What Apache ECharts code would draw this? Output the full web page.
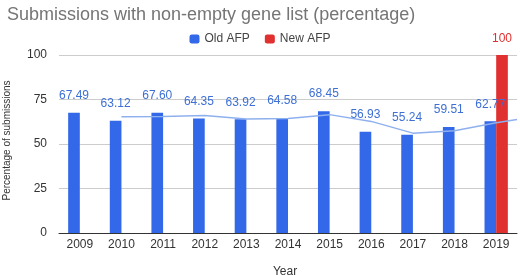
<!DOCTYPE html>
<html><head><meta charset="utf-8">
<script src="https://cdn.jsdelivr.net/npm/echarts@6/dist/echarts.min.js"></script>
<style>html,body{margin:0;padding:0;background:#fff;overflow:hidden}#c{width:520px;height:275px}</style>
</head><body><div id="c"></div>
<script>
var years = ['2009','2010','2011','2012','2013','2014','2015','2016','2017','2018','2019'];
var oldAFP = [67.49, 63.12, 67.60, 64.35, 63.92, 64.58, 68.45, 56.93, 55.24, 59.51, 62.77];
var newAFP = [null, null, null, null, null, null, null, null, null, null, 100];
var trendX = [1, 2, 3, 4, 5, 6, 7, 8, 9, 10, 10.5];
var trendY = [65.3, 65.4, 66.0, 64.1, 64.3, 66.5, 62.7, 56.1, 57.4, 61.9, 63.8];
var yTicks = [0, 25, 50, 75, 100];

var chart = echarts.init(document.getElementById('c'));
var font = 'Arial, "Liberation Sans", sans-serif';
chart.setOption({
  animation: false,
  title: {text: 'Submissions with non-empty gene list (percentage)', left: 2, top: 1,
    textStyle: {fontFamily: font, fontSize: 18, fontWeight: 'normal', color: '#757575'}},
  legend: {top: 28, left: 'center', itemWidth: 10, itemHeight: 9, itemGap: 15,
    data: ['Old AFP', 'New AFP'],
    textStyle: {fontFamily: font, fontSize: 12, color: '#444'}},
  grid: {left: 59, right: 3, top: 55, bottom: 42, outerBoundsMode: 'none', containLabel: false},
  xAxis: [{type: 'category', data: years, name: 'Year', nameLocation: 'middle', nameGap: 33,
    nameTextStyle: {fontFamily: font, fontSize: 12, color: '#333', padding: [0, 6, 0, 0]},
    axisTick: {show: false}, axisLine: {lineStyle: {color: '#333'}},
    axisLabel: {fontFamily: font, fontSize: 12, color: '#333', margin: 6}},
    {type: 'value', min: -0.5, max: 10.5, show: false}],
  yAxis: {type: 'value', min: 0, max: 100, interval: 25, name: 'Percentage of submissions',
    nameLocation: 'middle', nameGap: 47, axisLine: {show: false, onZero: false}, axisTick: {show: false},
    nameTextStyle: {fontFamily: font, fontSize: 10, color: '#333', padding: [0, 0, 0, 7]},
    axisLabel: {fontFamily: font, fontSize: 12, color: '#333', margin: 12,
      formatter: function(v){ return yTicks.indexOf(v) >= 0 ? String(v) : ''; }},
    splitLine: {lineStyle: {color: '#cccccc'}}},
  series: [
    {name: 'Old AFP', type: 'bar', data: oldAFP, barGap: '0%', barCategoryGap: '44%',
      itemStyle: {color: '#3369e8'},
      label: {show: true, position: 'top', distance: 11, fontFamily: font, fontSize: 12, color: '#3d6fd6',
        formatter: function(p){ return p.value.toFixed(2); }}},
    {name: 'New AFP', type: 'bar', data: newAFP,
      itemStyle: {color: '#e0302f'},
      label: {show: true, position: 'top', distance: 10, fontFamily: font, fontSize: 12, color: '#e0302f'}},
    {type: 'line', xAxisIndex: 1, data: trendX.map(function(x, i){ return [x, trendY[i]]; }),
      symbol: 'none', lineStyle: {color: '#8fb0ee', width: 1.5}, z: 3, silent: true}
  ]
});
</script></body></html>
